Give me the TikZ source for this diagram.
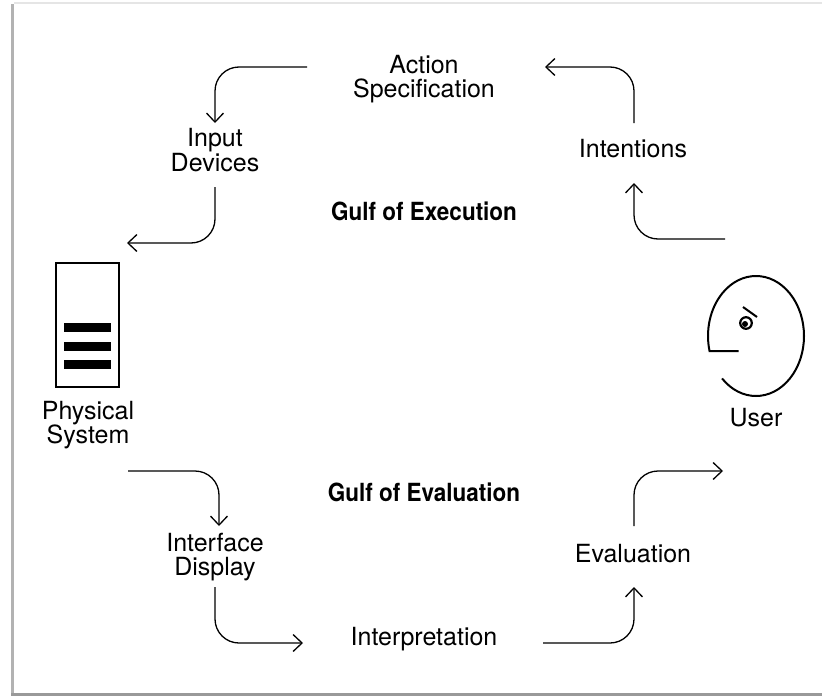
\documentclass[tikz,border=0pt]{standalone}
\usepackage{fontspec}
\setmainfont{TeX Gyre Heros}
\newfontfamily\gulffont{TeX Gyre Heros}[FakeStretch=0.9]
\usetikzlibrary{arrows.meta}
\begin{document}
\begin{tikzpicture}[x=1pt, y=-1pt,
    lbl/.style={align=center, inner sep=0pt, font=\fontsize{25}{24.5}\selectfont},
    gulf/.style={inner sep=0pt, font=\fontsize{25}{25}\selectfont\gulffont\bfseries},
    flow/.style={-{Straight Barb[length=9pt,width=17pt,line width=1.3pt]}, line width=1.3pt, rounded corners=24pt}]
        \useasboundingbox (0,0) rectangle (822,696);
        \fill[black!10] (14,2) rectangle (822,4);
        \fill[black!30] (11,4) rectangle (14,695);
        \fill[black!40] (11,693) rectangle (822,696);
        % nodes
        \node[lbl] (act) at (424,79) {Action\\Specification};
        \node[lbl] (inp) at (215,150) {Input\\Devices};
        \node[lbl] (int) at (633,149) {Intentions};
        \node[gulf] (exe) at (424,211) {Gulf of Execution};
        \node[draw, line width=2pt, minimum width=63pt, minimum height=124pt, inner sep=0pt] (sys) at (87.5,325) {};
        \node[lbl] (phys) at (88,425) {Physical\\System};
        \coordinate (user) at (756,336);
        \node[lbl] (usr) at (756,418) {User};
        \node[gulf] (eva) at (424,492) {Gulf of Evaluation};
        \node[lbl] (disp) at (215,557) {Interface\\Display};
        \node[lbl] (eval) at (633,554) {Evaluation};
        \node[lbl] (interp) at (424,639) {Interpretation};
        % screen bars
        \foreach \y in {-2,16.5,35}
            \fill ([shift={(-23.5,\y)}]sys.center) rectangle ++(47,9);
        % face
        \draw[line width=2pt] ([shift={(135:48 and 60)}]user) arc[start angle=135, end angle=-194.5, x radius=48, y radius=60] -- ++(29,0);
        \draw[line width=2.2pt] ([shift={(-10,-13)}]user) circle[radius=5.8];
        \fill ([shift={(-11,-12)}]user) circle[radius=3];
        \draw[line width=2pt] ([shift={(-13,-29)}]user) -- ([shift={(1,-19)}]user);
        % connectors
        \draw[flow] ([shift={(-117,-12)}]act.center) -| ([shift={(0,-27)}]inp.center);
        \draw[flow] ([shift={(0,37)}]inp.center) |- ([shift={(39.5,-82)}]sys.center);
        \draw[flow] ([shift={(1,-26)}]int.center) |- ([shift={(121,-12)}]act.center);
        \draw[flow] ([shift={(-31,-97)}]user) -| ([shift={(1,34)}]int.center);
        \draw[flow] ([shift={(40,46)}]phys.center) -| ([shift={(4,-31)}]disp.center);
        \draw[flow] ([shift={(0,30)}]disp.center) |- ([shift={(-121,4)}]interp.center);
        \draw[flow] ([shift={(119,4)}]interp.center) -| ([shift={(1,33)}]eval.center);
        \draw[flow] ([shift={(1,-28)}]eval.center) |- ([shift={(-33,135)}]user);
\end{tikzpicture}
\end{document}
